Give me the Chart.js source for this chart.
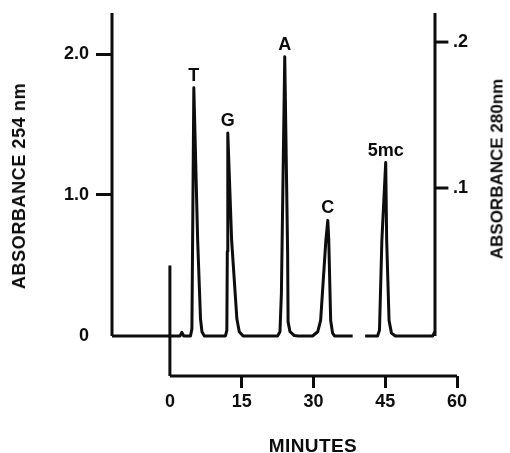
<!DOCTYPE html>
<html>
<head>
<meta charset="utf-8">
<script src="https://cdn.jsdelivr.net/npm/chart.js@4.4.1/dist/chart.umd.min.js"></script>
<style>
    html, body { margin: 0; padding: 0; background: #fff; }
    #wrap { position: relative; width: 510px; height: 453px; font-family: "Liberation Sans", Arial, sans-serif; font-weight: bold; color: #0d0d0d; }
    #wrap canvas { position: absolute; left: 0; top: 0; }
    .title { position: absolute; white-space: nowrap; line-height: 1; transform: translate(-50%, -50%); }
    .title.rot { transform: translate(-50%, -50%) rotate(-90deg); }
    #titleLeft { left: 18.5px; top: 186px; font-size: 18px; letter-spacing: 0.6px; }
    #titleRight { left: 496.5px; top: 169px; font-size: 17px; }
    #titleBottom { left: 313px; top: 445px; font-size: 19px; letter-spacing: 0.4px; }
</style>
</head>
<body>
<div id="wrap">
    <canvas id="chart" width="510" height="453"></canvas>
    <div class="title rot" id="titleLeft">ABSORBANCE 254 nm</div>
    <div class="title rot" id="titleRight">ABSORBANCE 280nm</div>
    <div class="title" id="titleBottom">MINUTES</div>
</div>
<script>
// 色谱曲线 (分钟, 254 nm 吸光度)，null 处为记录笔抬起的空白
const traceMinutes = [-12.1, 2.1, 2.5, 2.9, 4.3, 4.6, 4.8, 5.0, 5.8, 6.4, 6.7, 7.2,
    11.6, 11.9, 12.0, 12.1, 12.9, 14.0, 14.5, 15.3,
    22.5, 23.0, 23.3, 24.0, 24.6, 24.7, 25.1, 26.0, 26.8,
    29.8, 30.9, 31.5, 32.6, 33.0, 33.2, 33.6, 34.0, 34.4, 38.2,
    39.5,
    40.8, 43.4, 43.8, 44.3, 45.1, 45.3, 45.8, 46.3, 47.1, 54.9, 55.4];
const traceAbs254 = [0, 0, 0.025, 0, 0, 0.05, 0.9, 1.76, 0.68, 0.12, 0.03, 0,
    0, 0.04, 0.6, 1.44, 0.68, 0.12, 0.03, 0,
    0, 0.03, 0.3, 1.98, 0.6, 0.1, 0.03, 0.003, 0,
    0, 0.03, 0.11, 0.68, 0.82, 0.68, 0.11, 0.02, 0, 0,
    null,
    0, 0, 0.04, 0.68, 1.23, 0.68, 0.11, 0.02, 0, 0, 0.03];

// 峰的名称和峰顶
const peakNames = ['T', 'G', 'A', 'C', '5mc'];
const peakMinutes = [5.0, 12.1, 24.0, 33.0, 45.1];
const peakAbs254 = [1.76, 1.44, 1.98, 0.82, 1.23];

// 坐标轴刻度
const minuteTicks = [0, 15, 30, 45, 60];
const abs254Ticks = [0, 1, 2];
const abs254Labels = ['0', '1.0', '2.0'];
const abs280Ticks = [0.1, 0.2];
const abs280Labels = ['.1', '.2'];

// 进样标记高度、两侧纵轴位置
const injectionAbs254 = 0.5;
const leftAxisMinutes = -12.1;
const rightAxisMinutes = 55.4;

const INK = '#0d0d0d';
const FONT = '"Liberation Sans", Arial, sans-serif';

const xMin = -12.1, xMax = 60;
const yMin = -0.284, yMax = 2.291;
const y2Min = -0.0288, y2Max = 0.2199;

function seg(x1, y1, x2, y2, axis) {
    return {
        data: [{ x: x1, y: y1 }, { x: x2, y: y2 }],
        yAxisID: axis || 'y',
        borderColor: INK,
        borderWidth: 3,
        pointRadius: 0,
        clip: false
    };
}

const traceData = traceMinutes.map((t, i) => ({ x: t, y: traceAbs254[i] }));

const datasets = [
    {
        data: traceData,
        borderColor: INK,
        borderWidth: 3,
        borderJoinStyle: 'round',
        pointRadius: 0,
        spanGaps: false,
        clip: false
    },
    seg(leftAxisMinutes, 0, leftAxisMinutes, yMax),     // 左纵轴
    seg(rightAxisMinutes, 0, rightAxisMinutes, yMax),   // 右纵轴
    seg(0, yMin, 60, yMin),                             // 时间轴
    seg(0, yMin, 0, injectionAbs254)                    // 进样标记
];
// 右纵轴刻度线
abs280Ticks.forEach(v => datasets.push(seg(rightAxisMinutes, v, rightAxisMinutes + 2.8, v, 'y2')));

// 峰名称
const peakLabels = {
    id: 'peakLabels',
    afterDatasetsDraw(chart) {
        const { ctx, scales: { x, y } } = chart;
        ctx.save();
        ctx.font = 'bold 18px ' + FONT;
        ctx.fillStyle = INK;
        ctx.textAlign = 'center';
        ctx.textBaseline = 'alphabetic';
        peakNames.forEach((name, i) => {
            ctx.fillText(name, x.getPixelForValue(peakMinutes[i]), y.getPixelForValue(peakAbs254[i]) - 7);
        });
        ctx.restore();
    }
};

// 纵轴固定宽度，不让刻度文字撑开绘图区
function fixWidth(w) {
    return s => {
        s.width = w;
        s.paddingTop = 0;
        s.paddingBottom = 0;
    };
}

new Chart(document.getElementById('chart').getContext('2d'), {
    type: 'line',
    data: { datasets: datasets },
    plugins: [peakLabels],
    options: {
        responsive: false,
        animation: false,
        events: [],
        layout: { padding: { top: 13, left: 0, right: 0, bottom: 0 } },
        plugins: { legend: { display: false }, tooltip: { enabled: false } },
        scales: {
            x: {
                type: 'linear',
                min: xMin,
                max: xMax,
                afterBuildTicks: s => { s.ticks = minuteTicks.map(v => ({ value: v })); },
                afterFit: s => { s.height = 77; s.paddingLeft = 0; s.paddingRight = 0; },
                border: { display: false },
                grid: {
                    drawOnChartArea: false,
                    drawTicks: true,
                    tickLength: 12,
                    lineWidth: 3,
                    color: c => (c.tick && c.tick.value === 0) ? 'rgba(0,0,0,0)' : INK
                },
                ticks: {
                    padding: 3,
                    color: INK,
                    font: { family: FONT, size: 18, weight: 'bold' },
                    callback: v => String(v)
                }
            },
            y: {
                position: 'left',
                min: yMin,
                max: yMax,
                afterBuildTicks: s => { s.ticks = abs254Ticks.map(v => ({ value: v })); },
                afterFit: fixWidth(112),
                border: { display: false },
                grid: {
                    drawOnChartArea: false,
                    drawTicks: true,
                    tickLength: 16,
                    lineWidth: 3,
                    color: c => (c.tick && c.tick.value === 0) ? 'rgba(0,0,0,0)' : INK
                },
                ticks: {
                    padding: 7,
                    color: INK,
                    font: { family: FONT, size: 18, weight: 'bold' },
                    callback: (v, i) => abs254Labels[i]
                }
            },
            y2: {
                position: 'right',
                min: y2Min,
                max: y2Max,
                afterBuildTicks: s => { s.ticks = abs280Ticks.map(v => ({ value: v })); },
                afterFit: fixWidth(53),
                border: { display: false },
                grid: { display: false, drawTicks: false },
                ticks: {
                    mirror: true,
                    padding: 11,
                    color: INK,
                    font: { family: FONT, size: 18, weight: 'bold' },
                    callback: (v, i) => abs280Labels[i]
                }
            }
        }
    }
});
</script>
</body>
</html>
